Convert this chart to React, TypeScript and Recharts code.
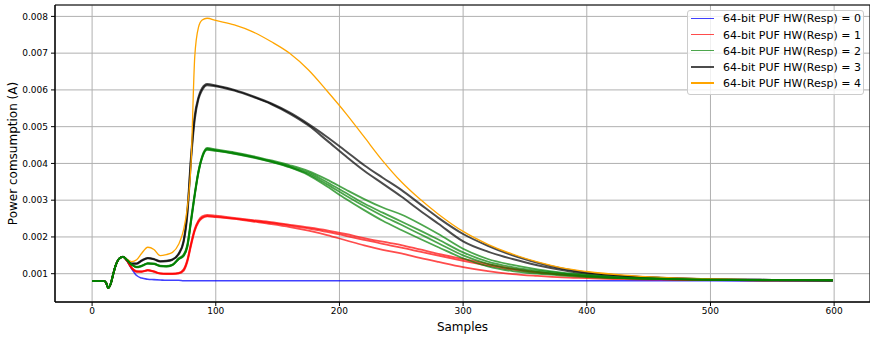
import { CartesianGrid, Label, Line, LineChart, ReferenceArea, XAxis, YAxis } from "recharts";

// shared start-up segment (all traces identical here)
const startX = [0, 5, 10, 11.5, 13, 15, 17, 19, 21, 23, 25];
const startY = [0.0008, 0.0008, 0.0008, 0.00074, 0.00061, 0.00072, 0.00098, 0.00122, 0.00137, 0.00144, 0.00146];

// sample positions after the first peak
const tailX = [
  28, 32, 36, 40, 45, 50, 55, 60, 65, 70, 74, 77, 80, 83, 86, 89, 93, 100, 115, 130, 145, 160, 175,
  190, 205, 220, 235, 250, 265, 280, 300, 320, 340, 360, 380, 400, 430, 460, 500, 550, 599,
];

const hw0 = [
  [0.00136, 0.00113, 0.00095, 0.00088, 0.00085, 0.00084, 0.00083, 0.00082, 0.00082, 0.00082, 0.00081, 0.00081, 0.00081, 0.00081, 0.00081, 0.00081, 0.00081, 0.00081, 0.00081, 0.00081, 0.00081, 0.00081, 0.00081,
   0.00081, 0.00081, 0.00081, 0.00081, 0.00081, 0.00081, 0.00081, 0.00081, 0.00081, 0.00081, 0.00081, 0.00081, 0.00081, 0.00081, 0.00081, 0.00081, 0.0008, 0.0008],
];

const hw1 = [
  [0.00136, 0.00116, 0.00107, 0.00106, 0.0011, 0.00106, 0.00101, 0.001, 0.001, 0.00102, 0.00112, 0.00138, 0.00183, 0.00222, 0.00245, 0.00256, 0.0026, 0.00258, 0.00252, 0.00246, 0.0024, 0.00233, 0.00226,
   0.00218, 0.00208, 0.00197, 0.00187, 0.00178, 0.00166, 0.00154, 0.0014, 0.00126, 0.00114, 0.00105, 0.00098, 0.00093, 0.00088, 0.00085, 0.00083, 0.00082, 0.00082],
  [0.00136, 0.00115, 0.00105, 0.00105, 0.00109, 0.00105, 0.001, 0.00099, 0.00099, 0.00101, 0.0011, 0.00135, 0.0018, 0.00219, 0.00242, 0.00253, 0.00257, 0.00255, 0.0025, 0.00244, 0.00238, 0.00231, 0.00223,
   0.00214, 0.00203, 0.00192, 0.00181, 0.00171, 0.0016, 0.00149, 0.00135, 0.00122, 0.00111, 0.00103, 0.00097, 0.00092, 0.00088, 0.00085, 0.00083, 0.00082, 0.00082],
  [0.00136, 0.00116, 0.00106, 0.00106, 0.00109, 0.00106, 0.00101, 0.001, 0.001, 0.00101, 0.00108, 0.00132, 0.00176, 0.00216, 0.0024, 0.00251, 0.00256, 0.00254, 0.00249, 0.00242, 0.00235, 0.00227, 0.00217,
   0.00205, 0.00191, 0.00177, 0.00165, 0.00155, 0.00143, 0.00132, 0.00118, 0.00107, 0.00099, 0.00094, 0.0009, 0.00088, 0.00085, 0.00084, 0.00083, 0.00082, 0.00082],
];

const hw2 = [
  [0.00138, 0.00125, 0.00119, 0.00122, 0.00129, 0.00128, 0.00122, 0.00121, 0.00125, 0.00142, 0.00152, 0.0018, 0.0025, 0.0032, 0.0038, 0.0042, 0.00442, 0.00438, 0.0043, 0.0042, 0.00408, 0.00395, 0.00379,
   0.00356, 0.00329, 0.00303, 0.0028, 0.00261, 0.00236, 0.00208, 0.00168, 0.0014, 0.00124, 0.00112, 0.00103, 0.00097, 0.0009, 0.00087, 0.00084, 0.00083, 0.00082],
  [0.00138, 0.00124, 0.00118, 0.00121, 0.00128, 0.00127, 0.00121, 0.0012, 0.00124, 0.0014, 0.0015, 0.00176, 0.00245, 0.00316, 0.00378, 0.00418, 0.0044, 0.00436, 0.00428, 0.00418, 0.00406, 0.00392, 0.00375,
   0.00349, 0.0032, 0.00291, 0.00266, 0.00242, 0.00218, 0.00193, 0.00158, 0.00133, 0.00118, 0.00108, 0.00101, 0.00095, 0.00089, 0.00086, 0.00084, 0.00083, 0.00082],
  [0.00138, 0.00124, 0.00117, 0.0012, 0.00127, 0.00126, 0.0012, 0.00119, 0.00123, 0.00139, 0.00148, 0.00172, 0.0024, 0.00312, 0.00374, 0.00415, 0.00437, 0.00434, 0.00426, 0.00416, 0.00404, 0.0039, 0.00371,
   0.00343, 0.00313, 0.00284, 0.00257, 0.00233, 0.00208, 0.00183, 0.0015, 0.00127, 0.00113, 0.00104, 0.00098, 0.00093, 0.00088, 0.00085, 0.00083, 0.00082, 0.00082],
  [0.00138, 0.00125, 0.00118, 0.00121, 0.00128, 0.00127, 0.00121, 0.0012, 0.00124, 0.0014, 0.00149, 0.00174, 0.00242, 0.00314, 0.00376, 0.00416, 0.00438, 0.00435, 0.00427, 0.00417, 0.00404, 0.00389, 0.00368,
   0.00337, 0.00304, 0.00273, 0.00244, 0.00219, 0.00195, 0.00172, 0.00142, 0.0012, 0.00107, 0.001, 0.00095, 0.00091, 0.00087, 0.00085, 0.00083, 0.00082, 0.00082],
];

const hw3 = [
  [0.00138, 0.00128, 0.00128, 0.00136, 0.00143, 0.0014, 0.00134, 0.00135, 0.00139, 0.00155, 0.0019, 0.0027, 0.0042, 0.0053, 0.0058, 0.00605, 0.00616, 0.00612, 0.006, 0.00583, 0.00563, 0.00538, 0.00507,
   0.00472, 0.00434, 0.00395, 0.00361, 0.00328, 0.0029, 0.00252, 0.00208, 0.00176, 0.0015, 0.0013, 0.00114, 0.00103, 0.00094, 0.00089, 0.00085, 0.00083, 0.00082],
  [0.00138, 0.00127, 0.00127, 0.00135, 0.00142, 0.00139, 0.00133, 0.00134, 0.00138, 0.00153, 0.00186, 0.0026, 0.0041, 0.0052, 0.00575, 0.006, 0.00613, 0.0061, 0.00598, 0.00581, 0.00561, 0.00535, 0.00503,
   0.00462, 0.0042, 0.0038, 0.00345, 0.0031, 0.00272, 0.00236, 0.00188, 0.0016, 0.0014, 0.00123, 0.0011, 0.001, 0.00093, 0.00088, 0.00085, 0.00083, 0.00082],
];

const hw4 = [
  [0.0014, 0.00133, 0.00138, 0.00155, 0.00172, 0.00166, 0.00149, 0.00152, 0.00158, 0.0018, 0.0022, 0.0028, 0.004, 0.0069, 0.0077, 0.0079, 0.00795, 0.00789, 0.00777, 0.00758, 0.00731, 0.00699, 0.00654,
   0.00597, 0.00537, 0.00472, 0.00407, 0.0035, 0.00303, 0.00262, 0.00215, 0.0018, 0.00153, 0.00132, 0.00116, 0.00106, 0.00096, 0.0009, 0.00086, 0.00083, 0.00082],
];

const labels = [
  "64-bit PUF HW(Resp) = 0",
  "64-bit PUF HW(Resp) = 1",
  "64-bit PUF HW(Resp) = 2",
  "64-bit PUF HW(Resp) = 3",
  "64-bit PUF HW(Resp) = 4",
];
const colors = ["#0000ff", "#ff0000", "#008000", "#000000", "#ffa500"];
const xTicks = [0, 100, 200, 300, 400, 500, 600];
const yTicks = [0.001, 0.002, 0.003, 0.004, 0.005, 0.006, 0.007, 0.008];

const X_DOMAIN: [number, number] = [-30, 629];
const Y_DOMAIN: [number, number] = [0.00023, 0.00831];

function toPoints(tail: number[]) {
  return startX.concat(tailX).map((x, i) => ({ x, y: i < startY.length ? startY[i] : tail[i - startY.length] }));
}

// drawing order: green last so it sits on top where traces coincide
const groups = [
  { hw: 0, tails: hw0, width: 1.6, opacity: 0.75 },
  { hw: 1, tails: hw1, width: 1.8, opacity: 0.7 },
  { hw: 3, tails: hw3, width: 2, opacity: 0.7 },
  { hw: 4, tails: hw4, width: 1.3, opacity: 1 },
  { hw: 2, tails: hw2, width: 1.8, opacity: 0.7 },
];

function ChartLegend() {
  return (
    <div
      style={{
        position: "absolute",
        left: 687,
        top: 10,
        width: 177,
        height: 85,
        boxSizing: "border-box",
        border: "1px solid #cccccc",
        borderRadius: 3,
        background: "rgba(255,255,255,0.8)",
      }}
    >
      {labels.map((label, i) => {
        const cy = 7.3 + i * 16.2;
        const g = groups.find((gr) => gr.hw === i)!;
        return (
          <div key={label}>
            <div
              style={{
                position: "absolute",
                left: 3,
                top: cy - 0.75,
                width: 23,
                height: 1.5,
                background: colors[i],
                opacity: g.opacity,
              }}
            />
            <div
              style={{
                position: "absolute",
                left: 35,
                top: cy,
                transform: "translateY(-50%)",
                fontSize: 11,
                lineHeight: 1,
                whiteSpace: "nowrap",
                color: "#000",
              }}
            >
              {label}
            </div>
          </div>
        );
      })}
    </div>
  );
}

export default function App() {
  return (
    <div style={{ position: "absolute", left: 0, top: 0, width: 870, height: 337, overflow: "hidden", background: "#fff", fontFamily: "DejaVu Sans" }}>
      <LineChart width={870} height={337} margin={{ top: 5, right: 0, bottom: 0, left: 0 }}>
        <CartesianGrid stroke="#b0b0b0" strokeWidth={1} />
        <XAxis
          dataKey="x"
          type="number"
          domain={X_DOMAIN}
          ticks={xTicks}
          allowDataOverflow
          height={35}
          tickSize={4}
          tickMargin={2}
          stroke="#000"
          tick={{ fill: "#000", fontSize: 9 }}
        >
          <Label
            content={() => (
              <text x={462.5} y={331} textAnchor="middle" fontSize={12} fill="#000">
                Samples
              </text>
            )}
          />
        </XAxis>
        <YAxis
          type="number"
          domain={Y_DOMAIN}
          ticks={yTicks}
          allowDataOverflow
          width={55}
          tickSize={4}
          tickMargin={3}
          stroke="#000"
          tick={{ fill: "#000", fontSize: 9 }}
          tickFormatter={(v: number) => v.toFixed(3)}
        >
          <Label
            content={() => (
              <text x={13} y={153.5} transform="rotate(-90 13 153.5)" textAnchor="middle" dominantBaseline="central" fontSize={12} fill="#000">
                Power comsumption (A)
              </text>
            )}
          />
        </YAxis>
        {groups.flatMap((g) =>
          g.tails.map((tail, j) => (
            <Line
              key={`hw${g.hw}-${j}`}
              data={toPoints(tail)}
              dataKey="y"
              type="monotone"
              stroke={colors[g.hw]}
              strokeWidth={g.width}
              strokeOpacity={g.opacity}
              dot={false}
              activeDot={false}
              isAnimationActive={false}
            />
          ))
        )}
        <ReferenceArea x1={X_DOMAIN[0]} x2={X_DOMAIN[1]} y1={Y_DOMAIN[0]} y2={Y_DOMAIN[1]} fill="none" stroke="#000" strokeWidth={1} ifOverflow="visible" />
      </LineChart>
      <ChartLegend />
    </div>
  );
}
